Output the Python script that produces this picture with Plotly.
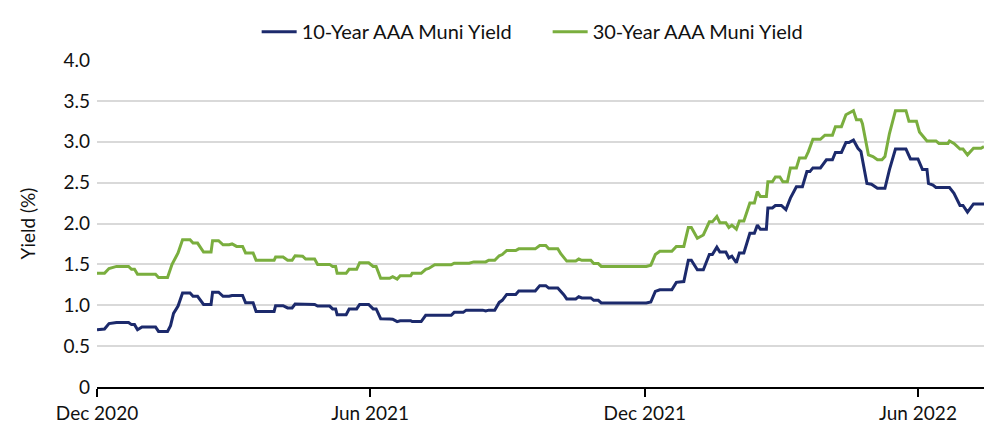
import plotly.graph_objects as go

dates_30y = [
    "2020-12-01", "2020-12-06", "2020-12-09", "2020-12-14", "2020-12-22", "2020-12-24", "2020-12-26", "2020-12-28",
    "2021-01-09", "2021-01-11", "2021-01-17", "2021-01-20", "2021-01-24", "2021-01-27", "2021-02-01", "2021-02-03",
    "2021-02-06", "2021-02-10", "2021-02-15", "2021-02-16", "2021-02-20", "2021-02-23", "2021-02-27", "2021-03-01",
    "2021-03-04", "2021-03-08", "2021-03-10", "2021-03-15", "2021-03-17", "2021-03-29", "2021-03-30", "2021-04-04",
    "2021-04-07", "2021-04-10", "2021-04-12", "2021-04-17", "2021-04-19", "2021-04-25", "2021-04-27", "2021-05-05",
    "2021-05-07", "2021-05-09", "2021-05-10", "2021-05-16", "2021-05-18", "2021-05-23", "2021-05-25", "2021-05-31",
    "2021-06-03", "2021-06-05", "2021-06-08", "2021-06-14", "2021-06-16", "2021-06-19", "2021-06-21", "2021-06-28",
    "2021-06-29", "2021-07-05", "2021-07-08", "2021-07-10", "2021-07-14", "2021-07-25", "2021-07-27", "2021-08-06",
    "2021-08-09", "2021-08-17", "2021-08-19", "2021-08-23", "2021-08-26", "2021-08-28", "2021-08-31", "2021-09-06",
    "2021-09-08", "2021-09-19", "2021-09-22", "2021-09-26", "2021-09-28", "2021-10-04", "2021-10-06", "2021-10-08",
    "2021-10-10", "2021-10-16", "2021-10-18", "2021-10-20", "2021-10-26", "2021-10-28", "2021-10-31", "2021-11-02",
    "2021-12-02", "2021-12-05", "2021-12-08", "2021-12-11", "2021-12-19", "2021-12-22", "2021-12-27", "2021-12-30",
    "2022-01-01", "2022-01-05", "2022-01-09", "2022-01-13", "2022-01-15", "2022-01-18", "2022-01-20", "2022-01-24",
    "2022-01-26", "2022-01-28", "2022-01-31", "2022-02-02", "2022-02-05", "2022-02-09", "2022-02-12", "2022-02-14",
    "2022-02-16", "2022-02-20", "2022-02-21", "2022-02-24", "2022-02-26", "2022-03-01", "2022-03-03", "2022-03-06",
    "2022-03-08", "2022-03-12", "2022-03-14", "2022-03-18", "2022-03-20", "2022-03-23", "2022-03-28", "2022-03-31",
    "2022-04-05", "2022-04-07", "2022-04-11", "2022-04-14", "2022-04-19", "2022-04-21", "2022-04-24", "2022-04-25",
    "2022-04-29", "2022-05-02", "2022-05-05", "2022-05-08", "2022-05-10", "2022-05-13", "2022-05-17", "2022-05-24",
    "2022-05-26", "2022-05-31", "2022-06-02", "2022-06-07", "2022-06-13", "2022-06-15", "2022-06-21", "2022-06-22",
    "2022-06-25", "2022-06-29", "2022-07-01", "2022-07-04", "2022-07-08", "2022-07-13", "2022-07-15",
]
yield_30y = [
    1.39, 1.39, 1.45, 1.475, 1.475, 1.44, 1.44, 1.38,
    1.38, 1.34, 1.34, 1.50, 1.64, 1.80, 1.80, 1.76,
    1.76, 1.65, 1.65, 1.79, 1.79, 1.74, 1.74, 1.75,
    1.72, 1.72, 1.64, 1.64, 1.55, 1.55, 1.59, 1.59,
    1.55, 1.55, 1.605, 1.60, 1.565, 1.565, 1.50, 1.50,
    1.475, 1.475, 1.39, 1.39, 1.44, 1.44, 1.52, 1.52,
    1.475, 1.475, 1.33, 1.33, 1.35, 1.32, 1.36, 1.36,
    1.39, 1.39, 1.44, 1.45, 1.495, 1.495, 1.515, 1.515,
    1.53, 1.53, 1.55, 1.55, 1.605, 1.62, 1.67, 1.67,
    1.69, 1.69, 1.73, 1.73, 1.69, 1.69, 1.63, 1.59,
    1.54, 1.54, 1.565, 1.55, 1.55, 1.51, 1.51, 1.475,
    1.475, 1.49, 1.62, 1.66, 1.66, 1.72, 1.72, 1.95,
    1.95, 1.82, 1.86, 2.02, 2.02, 2.085, 2.01, 2.01,
    1.95, 1.98, 1.93, 2.03, 2.03, 2.25, 2.25, 2.39,
    2.33, 2.33, 2.51, 2.51, 2.57, 2.57, 2.51, 2.51,
    2.68, 2.68, 2.80, 2.80, 2.88, 3.03, 3.03, 3.08,
    3.08, 3.185, 3.185, 3.33, 3.38, 3.27, 3.27, 3.22,
    2.84, 2.82, 2.78, 2.78, 2.82, 3.10, 3.38, 3.38,
    3.25, 3.25, 3.12, 3.01, 3.01, 2.98, 2.98, 3.01,
    2.98, 2.91, 2.91, 2.84, 2.92, 2.92, 2.94,
]

dates_10y = [
    "2020-12-01", "2020-12-06", "2020-12-09", "2020-12-14", "2020-12-22", "2020-12-24", "2020-12-26", "2020-12-28",
    "2020-12-31", "2021-01-09", "2021-01-11", "2021-01-17", "2021-01-19", "2021-01-21", "2021-01-24", "2021-01-27",
    "2021-02-01", "2021-02-03", "2021-02-06", "2021-02-10", "2021-02-15", "2021-02-16", "2021-02-20", "2021-02-23",
    "2021-02-27", "2021-03-01", "2021-03-08", "2021-03-10", "2021-03-15", "2021-03-17", "2021-03-29", "2021-03-30",
    "2021-04-04", "2021-04-07", "2021-04-10", "2021-04-12", "2021-04-25", "2021-04-27", "2021-05-05", "2021-05-07",
    "2021-05-09", "2021-05-10", "2021-05-16", "2021-05-18", "2021-05-23", "2021-05-25", "2021-05-31", "2021-06-03",
    "2021-06-05", "2021-06-08", "2021-06-14", "2021-06-16", "2021-06-19", "2021-06-21", "2021-06-28", "2021-06-29",
    "2021-07-05", "2021-07-08", "2021-07-25", "2021-07-27", "2021-08-02", "2021-08-04", "2021-08-15", "2021-08-17",
    "2021-08-19", "2021-08-23", "2021-08-26", "2021-08-28", "2021-08-31", "2021-09-06", "2021-09-08", "2021-09-19",
    "2021-09-22", "2021-09-26", "2021-09-28", "2021-10-04", "2021-10-08", "2021-10-10", "2021-10-16", "2021-10-18",
    "2021-10-20", "2021-10-26", "2021-10-28", "2021-10-31", "2021-11-02", "2021-12-02", "2021-12-05", "2021-12-08",
    "2021-12-11", "2021-12-19", "2021-12-22", "2021-12-27", "2021-12-30", "2022-01-01", "2022-01-05", "2022-01-09",
    "2022-01-13", "2022-01-15", "2022-01-18", "2022-01-20", "2022-01-24", "2022-01-26", "2022-01-28", "2022-01-31",
    "2022-02-02", "2022-02-05", "2022-02-09", "2022-02-12", "2022-02-14", "2022-02-16", "2022-02-20", "2022-02-21",
    "2022-02-24", "2022-02-26", "2022-03-02", "2022-03-05", "2022-03-08", "2022-03-12", "2022-03-16", "2022-03-19",
    "2022-03-21", "2022-03-23", "2022-03-28", "2022-04-01", "2022-04-05", "2022-04-07", "2022-04-11", "2022-04-14",
    "2022-04-16", "2022-04-19", "2022-04-22", "2022-04-24", "2022-04-28", "2022-05-01", "2022-05-05", "2022-05-10",
    "2022-05-13", "2022-05-17", "2022-05-24", "2022-05-27", "2022-06-01", "2022-06-04", "2022-06-07", "2022-06-08",
    "2022-06-11", "2022-06-13", "2022-06-22", "2022-06-25", "2022-06-29", "2022-07-01", "2022-07-04", "2022-07-08",
    "2022-07-15",
]
yield_10y = [
    0.70, 0.71, 0.775, 0.79, 0.79, 0.763, 0.763, 0.70,
    0.735, 0.735, 0.68, 0.68, 0.75, 0.90, 0.99, 1.15,
    1.15, 1.11, 1.11, 1.01, 1.01, 1.16, 1.16, 1.11,
    1.11, 1.12, 1.12, 1.03, 1.03, 0.925, 0.925, 0.995,
    0.995, 0.967, 0.967, 1.015, 1.01, 0.99, 0.99, 0.955,
    0.955, 0.885, 0.885, 0.955, 0.955, 1.01, 1.01, 0.955,
    0.955, 0.836, 0.833, 0.83, 0.80, 0.81, 0.81, 0.80,
    0.80, 0.877, 0.877, 0.913, 0.913, 0.94, 0.94, 0.93,
    0.94, 0.94, 1.035, 1.06, 1.133, 1.133, 1.175, 1.175,
    1.24, 1.24, 1.21, 1.21, 1.13, 1.077, 1.077, 1.105,
    1.09, 1.09, 1.06, 1.06, 1.028, 1.028, 1.04, 1.17,
    1.19, 1.19, 1.28, 1.29, 1.55, 1.55, 1.435, 1.435,
    1.62, 1.62, 1.71, 1.65, 1.65, 1.58, 1.60, 1.52,
    1.64, 1.64, 1.88, 1.88, 1.98, 1.93, 1.93, 2.19,
    2.19, 2.22, 2.22, 2.17, 2.31, 2.45, 2.45, 2.635,
    2.635, 2.68, 2.68, 2.78, 2.78, 2.87, 2.87, 2.99,
    2.99, 3.02, 2.92, 2.88, 2.49, 2.48, 2.43, 2.43,
    2.66, 2.91, 2.91, 2.79, 2.79, 2.66, 2.66, 2.49,
    2.47, 2.44, 2.44, 2.37, 2.22, 2.22, 2.14, 2.24,
    2.24,
]

tick_dates = ["2020-12-01", "2021-06-01", "2021-12-01", "2022-06-01"]
tick_labels = ["Dec 2020", "Jun 2021", "Dec 2021", "Jun 2022"]
y_ticks = [0, 0.5, 1.0, 1.5, 2.0, 2.5, 3.0, 3.5, 4.0]
y_tick_labels = ["0", "0.5", "1.0", "1.5", "2.0", "2.5", "3.0", "3.5", "4.0"]

NAVY = "#1c2a6c"
GREEN = "#7aae3e"
FONT = "Lato"

fig = go.Figure()
fig.add_trace(go.Scatter(x=dates_10y, y=yield_10y, mode="lines", name="10-Year AAA Muni Yield",
                         line=dict(color=NAVY, width=3)))
fig.add_trace(go.Scatter(x=dates_30y, y=yield_30y, mode="lines", name="30-Year AAA Muni Yield",
                         line=dict(color=GREEN, width=3)))

fig.update_layout(
    width=1000, height=440,
    margin=dict(l=97, r=16, t=60, b=53),
    paper_bgcolor="white", plot_bgcolor="white",
    font=dict(family=FONT, size=19, color="#111111"),
    showlegend=True,
    legend=dict(orientation="h", x=0.18, xanchor="left", y=1.027, yanchor="bottom",
                font=dict(size=20), bgcolor="rgba(0,0,0,0)", itemwidth=35,
                entrywidth=241, entrywidthmode="pixels"),
    xaxis=dict(
        type="date", range=["2020-12-01", "2022-07-15"],
        tickvals=tick_dates, ticktext=tick_labels,
        showgrid=False, showline=True, linecolor="black", linewidth=2,
        ticks="outside", ticklen=8, tickwidth=2, tickcolor="black",
        tickfont=dict(size=19), zeroline=False, automargin=False,
    ),
    yaxis=dict(
        range=[0, 4.0], tickvals=y_ticks, ticktext=y_tick_labels,
        showgrid=True, gridcolor="#d9d9d9", gridwidth=1.5,
        showline=False, zeroline=False, ticks="", ticklabelstandoff=6,
        title=dict(text="Yield (%)", font=dict(size=19), standoff=22),
        tickfont=dict(size=19), automargin=False,
    ),
)

fig.write_html("out.html", config={"displayModeBar": False},
               post_script="document.body.style.margin='0';")
